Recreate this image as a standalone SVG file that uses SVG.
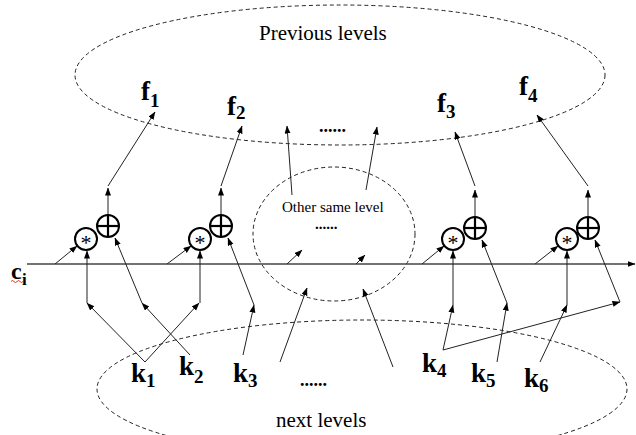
<svg xmlns="http://www.w3.org/2000/svg" width="636" height="435" viewBox="0 0 636 435">
<style>
.ell{fill:none;stroke:#222;stroke-width:1;stroke-dasharray:4,3}
.ln{fill:none;stroke:#222;stroke-width:1;marker-end:url(#ah)}
.main{fill:none;stroke:#444;stroke-width:1.5;marker-end:url(#ah)}
.op{fill:#fff;stroke:#000;stroke-width:2}
.cross{stroke:#000;stroke-width:2.2}
text{font-family:'Liberation Serif','Times New Roman','DejaVu Serif',serif;fill:#000}
.lbl{font-size:21px}
.sm{font-size:15px}
.var{font-size:27px;font-weight:bold}
.sub{font-size:19px}
.dots{font-weight:bold}
.ast{font-size:22px;text-anchor:middle}
</style>
<defs>
<marker id="ah" markerUnits="userSpaceOnUse" markerWidth="8" markerHeight="7" refX="7.5" refY="3" orient="auto">
<path d="M0,0 L8,3 L0,6 z" fill="#000"/>
</marker>
</defs>

<g id="regions">
<ellipse id="prev-levels" class="ell" cx="340" cy="75" rx="265" ry="70"/>
<ellipse id="same-level" class="ell" cx="334" cy="234" rx="81" ry="67"/>
<ellipse id="next-levels" class="ell" cx="362" cy="389" rx="265" ry="69"/>
</g>

<g id="texts" font-family="Liberation Serif, serif">
<text class="lbl" x="259" y="40">Previous levels</text>
<text class="lbl" x="276" y="427">next levels</text>
<text class="sm" x="282" y="212">Other same level</text>
<text class="dots" x="319" y="132" font-size="18">......</text>
<text class="dots" x="315" y="229" font-size="15">......</text>
<text class="dots" x="300" y="386" font-size="18">......</text>
</g>

<g id="connectors">
<line class="main" x1="27" y1="264" x2="635" y2="264"/>
<line class="ln" x1="55" y1="264" x2="77" y2="246"/>
<line class="ln" x1="167" y1="264" x2="191" y2="246"/>
<line class="ln" x1="422" y1="264" x2="444" y2="246"/>
<line class="ln" x1="535" y1="264" x2="558" y2="246"/>
<line class="ln" x1="87" y1="303" x2="87" y2="251"/>
<line class="ln" x1="200" y1="303" x2="200" y2="251"/>
<line class="ln" x1="453" y1="305" x2="453" y2="251"/>
<line class="ln" x1="567" y1="305" x2="567" y2="251"/>
<line class="ln" x1="145" y1="362" x2="87" y2="303"/>
<line class="ln" x1="145" y1="362" x2="199" y2="303"/>
<line class="ln" x1="190" y1="355" x2="142" y2="303"/>
<line class="ln" x1="243" y1="355" x2="254" y2="305"/>
<line class="ln" x1="443" y1="350" x2="453" y2="305"/>
<line class="ln" x1="443" y1="350" x2="620" y2="302"/>
<line class="ln" x1="497" y1="362" x2="507" y2="303"/>
<line class="ln" x1="540" y1="362" x2="567" y2="305"/>
<line class="ln" x1="142" y1="303" x2="115" y2="238"/>
<line class="ln" x1="254" y1="305" x2="228" y2="238"/>
<line class="ln" x1="507" y1="303" x2="482" y2="240"/>
<line class="ln" x1="620" y1="302" x2="595" y2="240"/>
<line class="ln" x1="108" y1="215" x2="108" y2="188"/>
<line class="ln" x1="108" y1="186" x2="155" y2="112"/>
<line class="ln" x1="221" y1="215" x2="221" y2="188"/>
<line class="ln" x1="221" y1="186" x2="242" y2="126"/>
<line class="ln" x1="475" y1="217" x2="475" y2="190"/>
<line class="ln" x1="475" y1="186" x2="455" y2="132"/>
<line class="ln" x1="588" y1="217" x2="588" y2="190"/>
<line class="ln" x1="588" y1="186" x2="537" y2="115"/>
<line class="ln" x1="292" y1="195" x2="287" y2="126"/>
<line class="ln" x1="366" y1="190" x2="377" y2="127"/>
<line class="ln" x1="287" y1="264" x2="302" y2="250"/>
<line class="ln" x1="356" y1="264" x2="365" y2="255"/>
<line class="ln" x1="280" y1="362" x2="307" y2="288"/>
<line class="ln" x1="393" y1="367" x2="363" y2="289"/>
</g>

<g id="op1">
<circle class="op" cx="86" cy="239" r="11"/>
<text class="ast" x="86" y="250">*</text>
<circle class="op" cx="108" cy="226" r="11"/>
<line class="cross" x1="97" y1="226" x2="119" y2="226"/>
<line class="cross" x1="108" y1="215" x2="108" y2="237"/>
</g>
<g id="op2">
<circle class="op" cx="200" cy="239" r="11"/>
<text class="ast" x="200" y="250">*</text>
<circle class="op" cx="221" cy="226" r="11"/>
<line class="cross" x1="210" y1="226" x2="232" y2="226"/>
<line class="cross" x1="221" y1="215" x2="221" y2="237"/>
</g>
<g id="op3">
<circle class="op" cx="453" cy="239" r="11"/>
<text class="ast" x="453" y="250">*</text>
<circle class="op" cx="475" cy="228" r="11"/>
<line class="cross" x1="464" y1="228" x2="486" y2="228"/>
<line class="cross" x1="475" y1="217" x2="475" y2="239"/>
</g>
<g id="op4">
<circle class="op" cx="567" cy="239" r="11"/>
<text class="ast" x="567" y="250">*</text>
<circle class="op" cx="588" cy="228" r="11"/>
<line class="cross" x1="577" y1="228" x2="599" y2="228"/>
<line class="cross" x1="588" y1="217" x2="588" y2="239"/>
</g>

<g id="ci">
<text class="var" x="11" y="279" font-size="24" style="font-size:24px">c</text>
<text class="var" x="22" y="285" style="font-size:17px">i</text>
<path d="M11,281.5 q1.5,-2 3,0 t3,0 t3,0 t3,0" fill="none" stroke="#e00" stroke-width="0.8"/>
</g>

<g id="f-labels">
<text class="var" x="141" y="100">f<tspan class="sub" dy="7">1</tspan></text>
<text class="var" x="227" y="115">f<tspan class="sub" dy="4">2</tspan></text>
<text class="var" x="437" y="112">f<tspan class="sub" dy="6">3</tspan></text>
<text class="var" x="519" y="95">f<tspan class="sub" dy="7">4</tspan></text>
</g>

<g id="k-labels">
<text class="var" x="131" y="382">k<tspan class="sub" dy="5">1</tspan></text>
<text class="var" x="179" y="375">k<tspan class="sub" dy="8">2</tspan></text>
<text class="var" x="233" y="382">k<tspan class="sub" dy="5">3</tspan></text>
<text class="var" x="422" y="372">k<tspan class="sub" dy="5">4</tspan></text>
<text class="var" x="471" y="382">k<tspan class="sub" dy="5">5</tspan></text>
<text class="var" x="524" y="387">k<tspan class="sub" dy="5">6</tspan></text>
</g>
</svg>
